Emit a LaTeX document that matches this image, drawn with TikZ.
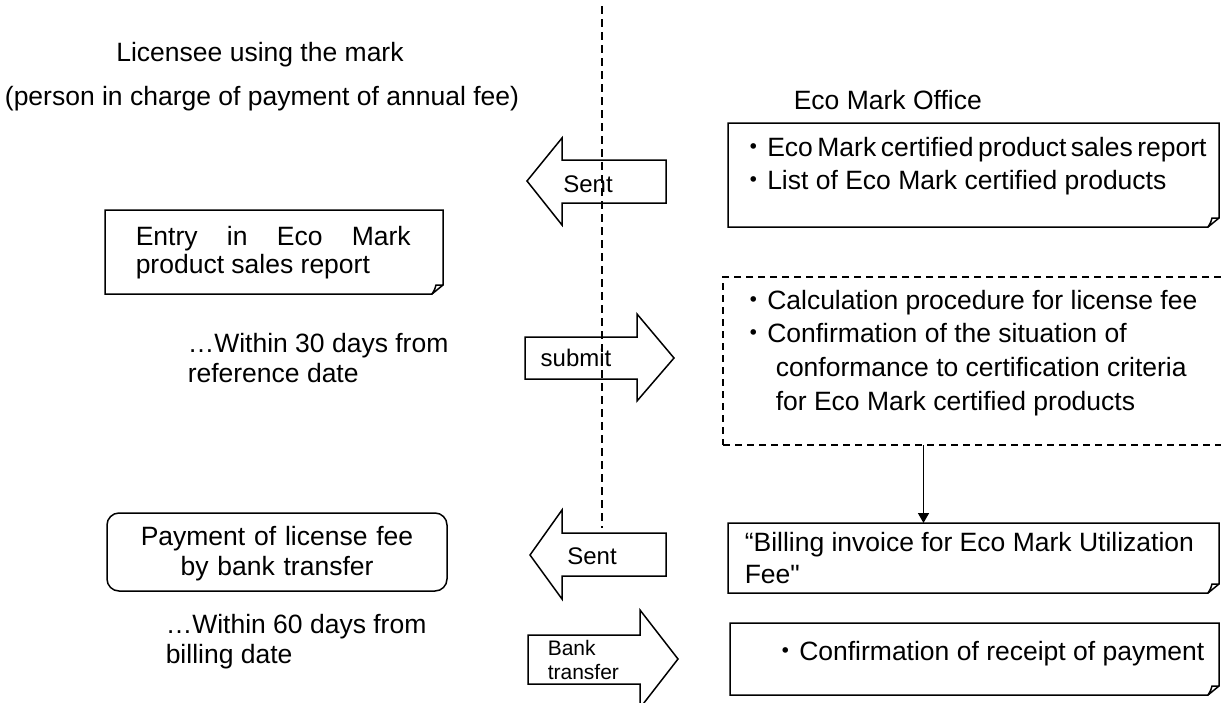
\documentclass[tikz,border=0pt]{standalone}
\usepackage{fontspec}
\setmainfont{Liberation Sans}
\newfontfamily\cjk{Noto Sans CJK JP}
\usetikzlibrary{arrows.meta}

\newcommand\bul{{\cjk ・}}
\newcommand\plainquote{{\addfontfeature{Ligatures=TeXOff}"}}
\newcommand\dogear[1]{%
    \draw (#1.north west) -- (#1.north east) -- ([yshift=9pt]#1.south east)
        -- ([xshift=-11pt]#1.south east) -- (#1.south west) -- cycle;
    \draw ([xshift=-11pt]#1.south east) .. controls ([xshift=-8pt,yshift=5pt]#1.south east)
        .. ([xshift=-7pt,yshift=9pt]#1.south east) -- ([yshift=9pt]#1.south east);
}

\begin{document}
\begin{tikzpicture}[
    x = 1pt,
    y = -1pt,
    line width = 1.5pt,
    box/.style={
        anchor = north west,
        inner sep = 0pt,
        outer sep = 0pt,
        },
    txt/.style={
        font = \fontsize{26.5}{33.7}\selectfont,
        inner sep = 0pt,
        anchor = base west,
        align = flush left,
        },
    tag/.style={
        font = \fontsize{24}{28}\selectfont,
        inner sep = 0pt,
        },
    divider/.style={
        dash pattern = on 8pt off 5pt,
        },
]

\useasboundingbox (0,0) rectangle (1221,702);
\clip (0,0) rectangle (1221,702);

% headings
\node[txt, anchor=base] (licensee) at (260,61) {Licensee using the mark};
\node[txt, anchor=base] (incharge) at (262,105) {(person in charge of payment of annual fee)};
\node[txt] (office) at (793,109) {Eco Mark Office};

\coordinate (divtop) at (602,6);
\coordinate (divbot) at (602,528);
\draw[divider] (divtop) -- (divbot);

% office side
\node[box, minimum width=491pt, minimum height=104pt] (salesrep) at (728,123) {};
\dogear{salesrep}
\node[txt, text width=520pt] (salesreptxt) at (740,156)
    {\bul{\spaceskip=0.17em\relax Eco Mark certified product sales report}\\\bul List of Eco Mark certified products};

\node[box, draw, dash pattern=on 7pt off 5pt, minimum width=501pt, minimum height=168pt] (calc) at (723,277) {};
\node[txt, text width=520pt] (calctxt) at (740,309)
    {\bul Calculation procedure for license fee\\
     \bul Confirmation of the situation of\\
     \hspace*{35pt}conformance to certification criteria\\
     \hspace*{35pt}for Eco Mark certified products};

\node[box, minimum width=491pt, minimum height=70pt] (invoice) at (728,523) {};
\dogear{invoice}
\node[txt, text width=520pt, font=\fontsize{26.5}{32}\selectfont] (invoicetxt) at (744,551)
    {“Billing invoice for Eco Mark Utilization\\Fee\plainquote};

\node[box, minimum width=489pt, minimum height=72pt] (receipt) at (730,623) {};
\dogear{receipt}
\node[txt] (receipttxt) at (772,660) {\bul Confirmation of receipt of payment};

\draw[-{Triangle[length=10pt,width=11pt]}] ([xshift=-50pt]calc.south) -- ([xshift=-50pt]invoice.north);

% licensee side
\node[box, minimum width=338pt, minimum height=84pt] (entry) at (105,210) {};
\dogear{entry}
\node[txt, text width=275pt, font=\fontsize{26.5}{28}\selectfont] (entrytxt) at (135,245)
    {Entry\hfill in\hfill Eco\hfill Mark\\product sales report};
\node[txt, text width=270pt, font=\fontsize{26.5}{30}\selectfont] (within30) at (187,352)
    {…Within 30 days from\\reference date};

\node[box, draw, rounded corners=12pt, minimum width=340pt, minimum height=78pt] (payment) at (107,513) {};
\node[txt, anchor=base, text width=340pt, align=center, font=\fontsize{26.5}{30}\selectfont] (paymenttxt) at (277,545)
    {Payment of license fee\\by bank transfer};
\node[txt, text width=290pt, font=\fontsize{26.5}{30}\selectfont] (within60) at (165,633)
    {…Within 60 days from\\billing date};

% block arrows
\draw (527,181) -- (562,138) -- (562,160) -- (666,160) -- (666,203) -- (562,203) -- (562,225) -- cycle;
\node[tag] (sentA) at (588,184) {Sent};

\draw (525,337) -- (637,337) -- (637,314) -- (674,358) -- (637,401) -- (637,379) -- (525,379) -- cycle;
\node[tag] (submit) at (576,358) {submit};

\draw (530,555) -- (562,510) -- (562,533) -- (666,533) -- (666,576) -- (562,576) -- (562,599) -- cycle;
\node[tag] (sentB) at (592,556) {Sent};

\draw (528,635) -- (640,635) -- (640,610) -- (678,659) -- (640,708) -- (640,684) -- (528,684) -- cycle;
\node[tag, anchor=base west, text width=80pt, align=left, font=\fontsize{21}{24}\selectfont] (bank) at (547,655)
    {Bank\\transfer};

\end{tikzpicture}
\end{document}
